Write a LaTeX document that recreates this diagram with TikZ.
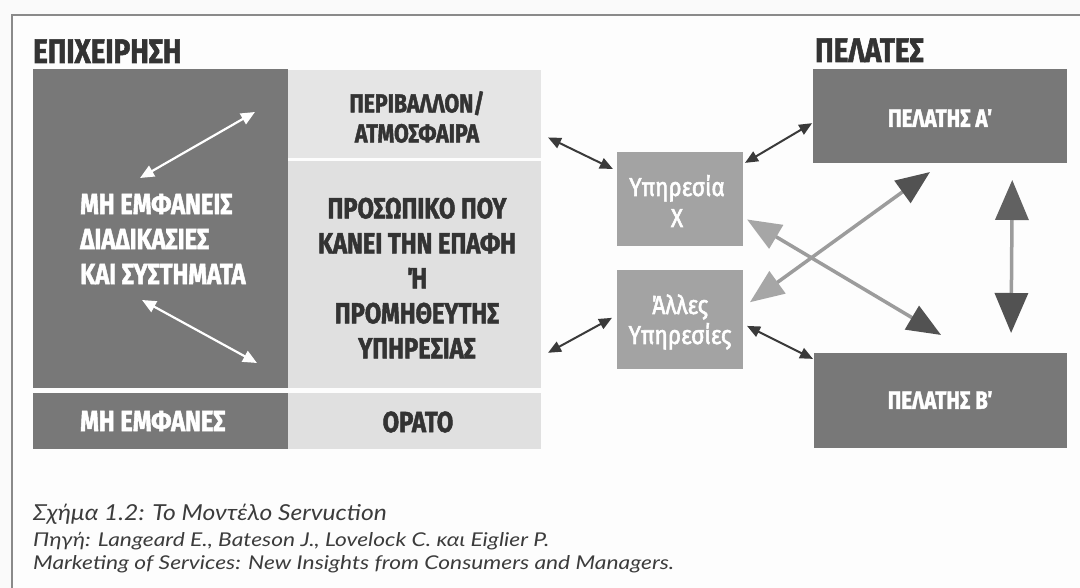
\documentclass[tikz,border=0pt]{standalone}
\usepackage{fontspec}
\setmainfont{Fira Sans}
\newfontfamily\hd[FakeStretch=0.82,FakeBold=1.6]{Fira Sans}
\newfontfamily\sv[FakeStretch=0.87,FakeBold=2.2]{Fira Sans}
\newfontfamily\cpa[FakeStretch=1.12]{Lato}
\newfontfamily\cpb[FakeStretch=1.2]{Lato}
\usetikzlibrary{arrows.meta,calc}
\definecolor{bg}{HTML}{FAFAFA}
\definecolor{frame}{HTML}{8A8A8A}
\definecolor{dk}{HTML}{787878}
\definecolor{lt}{HTML}{E0E0E0}
\definecolor{lt2}{HTML}{E5E5E5}
\definecolor{md}{HTML}{A3A3A3}
\definecolor{ink}{HTML}{333333}
\definecolor{arr}{HTML}{3A3A3A}
\definecolor{garr}{HTML}{9C9C9C}
\definecolor{ghl}{HTML}{A6A6A6}
\definecolor{ghd}{HTML}{525252}
\definecolor{capink}{HTML}{3C3C3C}
\begin{document}
\begin{tikzpicture}[x=1pt,y=-1pt,
  blk/.style={draw=none, inner sep=0pt, outer sep=0pt, anchor=north west},
  hdtxt/.style={inner sep=0pt, align=center, text=ink, font=\hd\bfseries\fontsize{29}{35}\selectfont},
  wtxt/.style={inner sep=0pt, align=left, text=white, font=\hd\bfseries\fontsize{29}{35}\selectfont},
  ttl/.style={inner sep=0pt, anchor=base west, text=ink, font=\hd\bfseries\fontsize{34}{40}\selectfont},
  svtxt/.style={inner sep=0pt, align=center, text=white, font=\sv\fontsize{26}{31}\selectfont},
  cutxt/.style={inner sep=0pt, text=white, font=\hd\bfseries\fontsize{25}{28}\selectfont},
  captxt/.style={inner sep=0pt, anchor=base west, text=capink},
  darr/.style={draw=arr, line width=2pt, {Triangle[length=13pt,width=11pt]}-{Triangle[length=13pt,width=11pt]}},
  warr/.style={draw=white, line width=2.2pt, {Triangle[length=14pt,width=12pt]}-{Triangle[length=14pt,width=12pt]}},
  garrow/.style={draw=garr, line width=3.5pt}
]
\useasboundingbox (0,0) rectangle (1080,588);
\fill[bg] (0,0) rectangle (1080,588);
\fill[white!60!bg] (12,15) rectangle (1080,588);
\draw[frame, line width=1.2pt] (12,588) -- (12,15) -- (1080,15);

% titles
\node[ttl] (t1) at (33,63) {ΕΠΙΧΕΙΡΗΣΗ};
\node[ttl] (t2) at (815,62) {ΠΕΛΑΤΕΣ};

% blocks
\node[blk, fill=dk, minimum width=255pt, minimum height=319pt] (hidden) at (33,69) {};
\node[blk, fill=lt2, minimum width=253pt, minimum height=88pt] (env) at (288,70) {};
\node[blk, fill=lt, minimum width=253pt, minimum height=227pt] (staff) at (288,161) {};
\node[blk, fill=dk, minimum width=255pt, minimum height=56pt] (inv) at (33,393) {};
\node[blk, fill=lt, minimum width=253pt, minimum height=56pt] (vis) at (288,393) {};
\node[blk, fill=md, minimum width=126pt, minimum height=94pt] (svcx) at (617,152) {};
\node[blk, fill=md, minimum width=126pt, minimum height=99pt] (svco) at (617,270) {};
\node[blk, fill=dk, minimum width=254pt, minimum height=94pt] (custA) at (813,69) {};
\node[blk, fill=dk, minimum width=253pt, minimum height=95pt] (custB) at (814,353) {};

% texts
\node[wtxt, anchor=west] (hiddentxt) at (80,239) {ΜΗ ΕΜΦΑΝΕΙΣ\\ΔΙΑΔΙΚΑΣΙΕΣ\\ΚΑΙ ΣΥΣΤΗΜΑΤΑ};
\node[hdtxt, font=\hd\bfseries\fontsize{26}{30}\selectfont] (envtxt) at (417,117) {ΠΕΡΙΒΑΛΛΟΝ/\\ΑΤΜΟΣΦΑΙΡΑ};
\node[hdtxt] (stafftxt) at (417,278) {ΠΡΟΣΩΠΙΚΟ ΠΟΥ\\ΚΑΝΕΙ ΤΗΝ ΕΠΑΦΗ\\Ή\\ΠΡΟΜΗΘΕΥΤΗΣ\\ΥΠΗΡΕΣΙΑΣ};
\node[wtxt, anchor=west] (invtxt) at (80,421) {ΜΗ ΕΜΦΑΝΕΣ};
\node[hdtxt] (vistxt) at (418,422) {ΟΡΑΤΟ};
\node[svtxt] (svcxtxt) at (677,201) {Υπηρεσία\\X};
\node[svtxt, font=\sv\fontsize{26}{30}\selectfont] (svcotxt) at (680,322) {Άλλες\\Υπηρεσίες};
\node[cutxt] (custAtxt) at (940,118) {ΠΕΛΑΤΗΣ Α΄};
\node[cutxt] (custBtxt) at (940,400) {ΠΕΛΑΤΗΣ Β΄};

% white arrows inside hidden block
\coordinate (w1a) at (140,178);
\coordinate (w1b) at (255,112);
\coordinate (w2a) at (142,300);
\coordinate (w2b) at (257,363);
\draw[warr] (w1a) -- (w1b);
\draw[warr] (w2a) -- (w2b);

% dark connectors
\draw[darr, shorten <=7.8pt, shorten >=4.5pt] (env.-9.16) -- (svcx.156.8);
\draw[darr, shorten <=2.3pt, shorten >=1pt] (svcx.29.68) -- (custA.183.2);
\draw[darr, shorten <=8pt, shorten >=5.7pt] (staff.-33.05) -- (svco.176.2);
\draw[darr, shorten <=4.5pt, shorten >=1.1pt] (svco.-4.99) -- (custB.162.45);

% big gray arrows
\draw[garrow, {Triangle[length=34pt,width=27pt,color=ghl]}-{Triangle[length=34pt,width=27pt,color=ghd]}, shorten <=8.6pt, shorten >=15.4pt] (svco.11.2) -- (custA.273.04);
\draw[garrow, {Triangle[length=34pt,width=27pt,color=ghl]}-{Triangle[length=34pt,width=27pt,color=ghd]}, shorten <=4.7pt, shorten >=35.2pt] (svcx.-16.45) -- (custB.57.98);
\draw[garrow, {Triangle[length=40pt,width=33pt,color=ghd!80!garr]}-{Triangle[length=40pt,width=33pt,color=ghd]}, shorten <=17pt, shorten >=20pt] (custA.-33.9) -- (custB.34.3);

% caption
\node[captxt, font=\cpa\itshape\fontsize{22}{26}\selectfont] (cap1) at (33,520) {Σχήμα 1.2: Το Μοντέλο Servuction};
\node[captxt, font=\cpb\itshape\fontsize{19}{22}\selectfont] (cap2) at (33,546) {Πηγή: Langeard E., Bateson J., Lovelock C. και Eiglier P.};
\node[captxt, font=\cpb\itshape\fontsize{19}{22}\selectfont] (cap3) at (33,569) {Marketing of Services: New Insights from Consumers and Managers.};
\end{tikzpicture}
\end{document}
